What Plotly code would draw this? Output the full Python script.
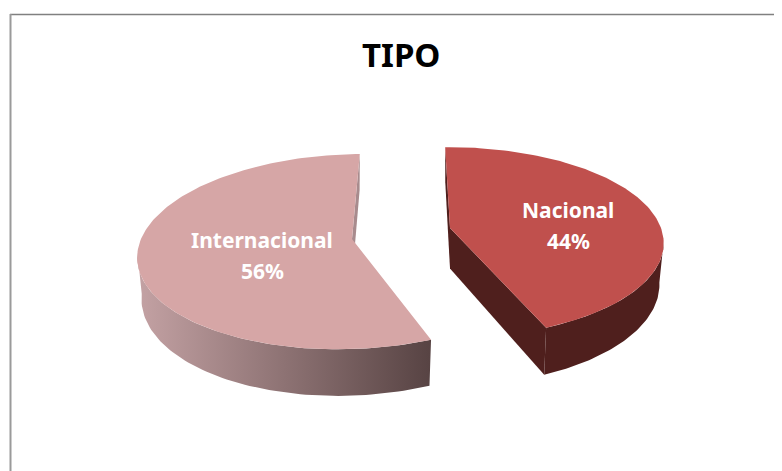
import numpy as np
import plotly.graph_objects as go

# Chart data
categories = ["Nacional", "Internacional"]
values = [44, 56]
title_text = "TIPO"

top_colors = ["#c0504d", "#d6a6a6"]
wall_colors = ["#4f1f1d", "#a88b8d"]
gradient_colors = ["#c4a2a4", "#574343"]

# Projection of the tilted pie, the axes are in picture pixels
START_ANGLE = -1
RX = [211, 211]
RY = [93, 96]
PERSPECTIVE = [0.15, 0.13]
DEPTH = 40.5
BOTTOM_SCALE = 0.98
centers = [(450, 228), (352, 239)]
shears = [0.02, -0.13]
label_x = [568, 262]
name_y = [210, 240]
pct_y = [241, 271]

# The page body has an 8px margin, the plot area starts there
PAGE_MARGIN = 8


def rim(i, angles, bottom=False):
    # angles in degrees, clockwise from the back of the pie
    t = np.radians(angles)
    w = 1 / (1 + PERSPECTIVE[i] * np.cos(t))
    dx = RX[i] * np.sin(t) * w
    dy = -RY[i] * np.cos(t) * w
    dx = dx + shears[i] * dy
    if bottom:
        return centers[i][0] + dx * BOTTOM_SCALE, centers[i][1] + dy + DEPTH * w
    return centers[i][0] + dx, centers[i][1] + dy


def add_poly(fig, x, y, color=None, gradient=None):
    x = list(x) + [x[0]]
    y = list(y) + [y[0]]
    kw = dict(fillgradient=gradient) if gradient else dict(fillcolor=color)
    fig.add_trace(go.Scatter(x=x, y=y, mode="lines", fill="toself",
                             line=dict(width=0), hoverinfo="skip", **kw))


# Slice angles come from the values
total = sum(values)
split = START_ANGLE + 360 * values[0] / total
end = START_ANGLE + 360

fig = go.Figure()

# Internacional: walls first, then the top
a = np.array([end])
cx, cy = centers[1]
xt, yt = rim(1, a)
xb, yb = rim(1, a, bottom=True)
add_poly(fig, [cx, xt[0], xb[0], cx], [cy, yt[0], yb[0], cy + DEPTH], wall_colors[1])

a = np.linspace(split, 262, 80)
xt, yt = rim(1, a)
xb, yb = rim(1, a, bottom=True)
add_poly(fig, list(xt) + list(xb[::-1]), list(yt) + list(yb[::-1]),
         gradient=dict(type="horizontal",
                       colorscale=[[0, gradient_colors[0]], [1, gradient_colors[1]]]))

a = np.linspace(split, end, 160)
xt, yt = rim(1, a)
add_poly(fig, [cx] + list(xt), [cy] + list(yt), top_colors[1])

# Nacional
cx, cy = centers[0]
a = np.array([START_ANGLE])
xt, yt = rim(0, a)
xb, yb = rim(0, a, bottom=True)
add_poly(fig, [cx, xt[0], xb[0], cx], [cy, yt[0], yb[0], cy + DEPTH], wall_colors[0])

a = np.array([split])
xt, yt = rim(0, a)
xb, yb = rim(0, a, bottom=True)
add_poly(fig, [cx, xt[0], xb[0], cx], [cy, yt[0], yb[0], cy + DEPTH], wall_colors[0])

a = np.linspace(98, split, 60)
xt, yt = rim(0, a)
xb, yb = rim(0, a, bottom=True)
add_poly(fig, list(xt) + list(xb[::-1]), list(yt) + list(yb[::-1]), wall_colors[0])

a = np.linspace(START_ANGLE, split, 120)
xt, yt = rim(0, a)
add_poly(fig, [cx] + list(xt), [cy] + list(yt), top_colors[0])

for i in range(2):
    pct = round(100 * values[i] / total)
    fig.add_annotation(x=label_x[i], y=name_y[i], showarrow=False,
                       text="<b>%s</b>" % categories[i],
                       font=dict(family="Noto Sans", size=21, color="white"))
    fig.add_annotation(x=label_x[i], y=pct_y[i], showarrow=False,
                       text="<b>%d%%</b>" % pct,
                       font=dict(family="Noto Sans", size=21, color="white"))

fig.add_annotation(x=401, y=54.5, showarrow=False, text="<b>%s</b>" % title_text,
                   font=dict(family="Noto Sans", size=33, color="black"))

# Chart frame, only the top and left edges show
fig.add_shape(type="line", x0=10, x1=782, y0=14.5, y1=14.5, line=dict(color="#808080", width=1.5))
fig.add_shape(type="line", x0=10.5, x1=10.5, y0=14, y1=471, line=dict(color="#9a9a9a", width=2))

fig.update_layout(
    width=782 - PAGE_MARGIN, height=471 - PAGE_MARGIN,
    margin=dict(l=0, r=0, t=0, b=0),
    paper_bgcolor="white", plot_bgcolor="white",
    showlegend=False,
    xaxis=dict(range=[PAGE_MARGIN, 782], visible=False, fixedrange=True),
    yaxis=dict(range=[471, PAGE_MARGIN], visible=False, fixedrange=True),
)

fig.write_html("out.html")
